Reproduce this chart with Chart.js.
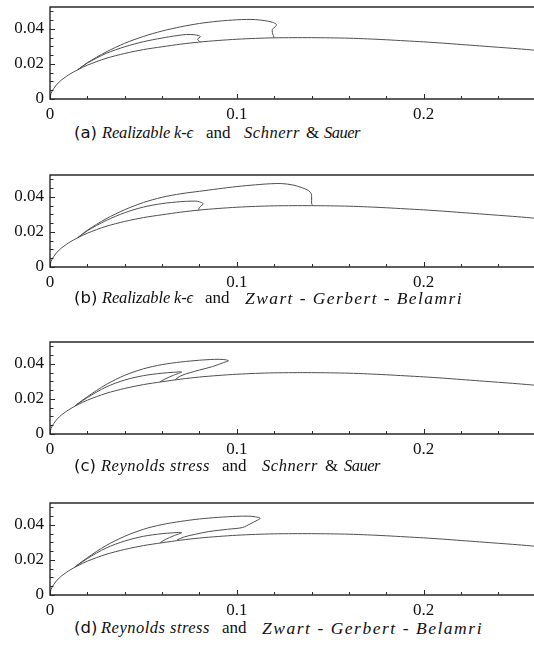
<!DOCTYPE html>
<html>
<head>
<meta charset="utf-8">
<script src="https://cdn.jsdelivr.net/npm/chart.js@4.4.1/dist/chart.umd.min.js"></script>
<style>
  html, body { margin: 0; padding: 0; background: #fff; }
  body { width: 534px; height: 650px; position: relative; overflow: hidden; }
  .panel { position: absolute; left: 0; width: 534px; height: 120px; }
  .cap { position: absolute; left: 0; top: 0; width: 534px; height: 24px; color: #111; }
  .cap span { position: absolute; top: 0; white-space: nowrap; line-height: 24px; }
  .lab { font-family: "DejaVu Sans", "Noto Sans", sans-serif; font-size: 16.5px; }
  .m { font-family: "Liberation Serif", "DejaVu Serif", serif; font-style: italic; font-size: 16.5px; }
  .m.wide { font-size: 17.5px; }
  .r { font-family: "Liberation Serif", "DejaVu Serif", serif; font-size: 17px; }
</style>
</head>
<body>
<div class="panel" style="top:0px"><canvas id="cA" width="534" height="120"></canvas></div>
<div class="panel" style="top:168px"><canvas id="cB" width="534" height="120"></canvas></div>
<div class="panel" style="top:335px"><canvas id="cC" width="534" height="120"></canvas></div>
<div class="panel" style="top:496px"><canvas id="cD" width="534" height="120"></canvas></div>

<div class="cap" style="top:121px">
  <span class="lab" data-x="74">(a)</span>
  <span class="m" data-x="102" data-w="91">Realizable k-ϵ</span>
  <span class="r" data-x="206">and</span>
  <span class="m" data-x="244" data-w="56">Schnerr</span>
  <span class="r" data-x="306">&amp;</span>
  <span class="m" data-x="324" data-w="36">Sauer</span>
</div>
<div class="cap" style="top:286px">
  <span class="lab" data-x="74">(b)</span>
  <span class="m" data-x="102" data-w="91">Realizable k-ϵ</span>
  <span class="r" data-x="205">and</span>
  <span class="m wide" data-x="245" data-w="218">Zwart - Gerbert - Belamri</span>
</div>
<div class="cap" style="top:454px">
  <span class="lab" data-x="74">(c)</span>
  <span class="m" data-x="101" data-w="109">Reynolds stress</span>
  <span class="r" data-x="222">and</span>
  <span class="m" data-x="262" data-w="56">Schnerr</span>
  <span class="r" data-x="325">&amp;</span>
  <span class="m" data-x="344" data-w="36">Sauer</span>
</div>
<div class="cap" style="top:616px">
  <span class="lab" data-x="74">(d)</span>
  <span class="m" data-x="101" data-w="109">Reynolds stress</span>
  <span class="r" data-x="222">and</span>
  <span class="m wide" data-x="262" data-w="221">Zwart - Gerbert - Belamri</span>
</div>

<script>
// Hydrofoil suction-side contour (shared by all four panels)
const foilX = [0, 0.0005, 0.002, 0.005, 0.01, 0.015, 0.02, 0.03, 0.04, 0.05, 0.06, 0.07, 0.08, 0.09, 0.10, 0.11, 0.12, 0.13, 0.14, 0.15, 0.16, 0.17, 0.18, 0.19, 0.20, 0.21, 0.22, 0.23, 0.24, 0.25, 0.26];
const foilY = [0, 0.0030, 0.0060, 0.0098, 0.0138, 0.0168, 0.0193, 0.0232, 0.0260, 0.0282, 0.0298, 0.0313, 0.0325, 0.0334, 0.0341, 0.0346, 0.0349, 0.0350, 0.0350, 0.0349, 0.0347, 0.0343, 0.0338, 0.0332, 0.0326, 0.0319, 0.0311, 0.0303, 0.0295, 0.0287, 0.0278];

// (a) Realizable k-eps + Schnerr & Sauer: cavity iso-contours
const outerAX = [0.015, 0.02, 0.03, 0.04, 0.05, 0.06, 0.07, 0.08, 0.09, 0.10, 0.105, 0.11, 0.115, 0.119, 0.1212, 0.1205, 0.119, 0.119, 0.1195, 0.120];
const outerAY = [0.0168, 0.0207, 0.0268, 0.0318, 0.0357, 0.0388, 0.0412, 0.0431, 0.0444, 0.0452, 0.0454, 0.0453, 0.0447, 0.0438, 0.0425, 0.0412, 0.0398, 0.0380, 0.0362, 0.0349];
const innerAX = [0.015, 0.02, 0.03, 0.04, 0.05, 0.06, 0.068, 0.073, 0.077, 0.0795, 0.0805, 0.079, 0.0795, 0.0805];
const innerAY = [0.0168, 0.0205, 0.0260, 0.0298, 0.0327, 0.0348, 0.0362, 0.0368, 0.0367, 0.0362, 0.0355, 0.0343, 0.0333, 0.0326];

// (b) Realizable k-eps + Zwart-Gerbert-Belamri
const outerBX = [0.015, 0.02, 0.03, 0.04, 0.05, 0.06, 0.07, 0.08, 0.09, 0.10, 0.11, 0.118, 0.124, 0.13, 0.135, 0.1385, 0.1398, 0.140, 0.140, 0.140, 0.1405];
const outerBY = [0.0168, 0.0210, 0.0275, 0.0327, 0.0368, 0.0398, 0.0418, 0.0432, 0.0446, 0.0459, 0.0469, 0.0475, 0.0476, 0.0468, 0.0452, 0.0435, 0.0418, 0.0400, 0.0380, 0.0362, 0.0350];
const innerBX = [0.015, 0.02, 0.03, 0.04, 0.05, 0.06, 0.07, 0.076, 0.079, 0.081, 0.082, 0.0805, 0.0795, 0.080];
const innerBY = [0.0168, 0.0207, 0.0265, 0.0310, 0.0342, 0.0362, 0.0373, 0.0376, 0.0375, 0.0368, 0.0360, 0.0345, 0.0330, 0.0325];

// (c) Reynolds stress + Schnerr & Sauer
const outerCX = [0.0133, 0.02, 0.03, 0.04, 0.05, 0.06, 0.07, 0.08, 0.088, 0.093, 0.0955, 0.093, 0.087, 0.080, 0.075, 0.070, 0.067];
const outerCY = [0.0160, 0.0213, 0.0282, 0.0335, 0.0372, 0.0396, 0.0411, 0.0421, 0.0426, 0.0425, 0.0418, 0.0408, 0.0385, 0.0365, 0.0350, 0.0332, 0.0310];
const innerCX = [0.0133, 0.02, 0.03, 0.04, 0.05, 0.06, 0.066, 0.0705, 0.066, 0.062, 0.059];
const innerCY = [0.0160, 0.0208, 0.0268, 0.0308, 0.0333, 0.0347, 0.0352, 0.0354, 0.0335, 0.0316, 0.0299];

// (d) Reynolds stress + Zwart-Gerbert-Belamri
const outerDX = [0.0133, 0.02, 0.03, 0.04, 0.05, 0.06, 0.07, 0.08, 0.09, 0.10, 0.106, 0.11, 0.1125, 0.111, 0.107, 0.103, 0.095, 0.085, 0.078, 0.072, 0.068];
const outerDY = [0.0160, 0.0213, 0.0282, 0.0335, 0.0375, 0.0402, 0.0420, 0.0434, 0.0443, 0.0449, 0.0450, 0.0446, 0.0438, 0.0427, 0.0405, 0.0385, 0.0375, 0.0362, 0.0347, 0.0332, 0.0314];
const innerDX = [0.0133, 0.02, 0.03, 0.04, 0.05, 0.06, 0.066, 0.0705, 0.066, 0.062, 0.059];
const innerDY = [0.0160, 0.0208, 0.0268, 0.0308, 0.0335, 0.0350, 0.0355, 0.0356, 0.0337, 0.0318, 0.0299];

// Axis ticks
const xMajor = [0, 0.1, 0.2];
const xTickLabels = ['0', '0.1', '0.2'];
const yMajor = [0, 0.02, 0.04];
const yTickLabels = ['0', '0.02', '0.04'];
const xMinorStep = 0.02;
const yMinorStep = 0.005;
const xMax = 0.259;
const yMax = 0.0525;

const pts = (xs, ys) => xs.map((x, i) => ({ x: x, y: ys[i] }));

// Caption pieces: place each at its left edge; math-italic words are spread to their width
document.querySelectorAll('.cap span').forEach(el => {
  el.style.left = el.dataset.x + 'px';
  if (el.dataset.w) {
    const natural = el.getBoundingClientRect().width;
    const ls = (parseFloat(el.dataset.w) - natural) / el.textContent.length;
    el.style.letterSpacing = ls.toFixed(2) + 'px';
  }
});

// Frame (top + left + bottom) with inward tick marks
const frameTicks = {
  id: 'frameTicks',
  afterDraw(chart) {
    const { ctx, chartArea: { left, right, top, bottom }, scales: { x, y } } = chart;
    ctx.save();
    ctx.strokeStyle = '#2a2a2a';
    ctx.lineWidth = 1.4;
    ctx.beginPath();
    ctx.moveTo(right, top); ctx.lineTo(left, top); ctx.lineTo(left, bottom); ctx.lineTo(right, bottom);
    ctx.stroke();
    ctx.lineWidth = 1;
    ctx.beginPath();
    for (let k = 0; k * xMinorStep <= xMax + 1e-9; k++) {
      const v = k * xMinorStep;
      const px = Math.round(x.getPixelForValue(v)) + 0.5;
      const major = xMajor.some(m => Math.abs(m - v) < 1e-9);
      ctx.moveTo(px, bottom); ctx.lineTo(px, bottom - (major ? 5 : 3));
    }
    for (let k = 0; k * yMinorStep <= yMax + 1e-9; k++) {
      const v = k * yMinorStep;
      const py = Math.round(y.getPixelForValue(v)) + 0.5;
      const major = yMajor.some(m => Math.abs(m - v) < 1e-9);
      ctx.moveTo(left, py); ctx.lineTo(left + (major ? 5 : 3.5), py);
    }
    ctx.stroke();
    ctx.restore();
  }
};

const lineStyle = { borderColor: '#4f4f4f', borderWidth: 1, pointRadius: 0, showLine: true, fill: false, tension: 0.3 };

function makeChart(id, outerX, outerY, innerX, innerY) {
  return new Chart(document.getElementById(id), {
    type: 'scatter',
    data: {
      datasets: [
        Object.assign({ data: pts(foilX, foilY) }, lineStyle),
        Object.assign({ data: pts(outerX, outerY) }, lineStyle),
        Object.assign({ data: pts(innerX, innerY) }, lineStyle)
      ]
    },
    options: {
      responsive: false,
      animation: false,
      devicePixelRatio: 1,
      layout: { padding: { top: 7, left: 0, right: 0, bottom: 0 } },
      plugins: { legend: { display: false }, tooltip: { enabled: false } },
      scales: {
        x: {
          type: 'linear', min: 0, max: xMax,
          grid: { display: false, drawTicks: false },
          border: { display: false },
          afterBuildTicks: s => { s.ticks = xMajor.map(v => ({ value: v })); },
          afterFit: s => { s.height = 21; s.paddingLeft = 0; s.paddingRight = 0; },
          ticks: {
            padding: 5, color: '#111', maxRotation: 0, autoSkip: false,
            font: { family: 'Liberation Serif', size: 17 },
            callback: (v) => xTickLabels[xMajor.findIndex(m => Math.abs(m - v) < 1e-9)]
          }
        },
        y: {
          type: 'linear', min: 0, max: yMax,
          grid: { display: false, drawTicks: false },
          border: { display: false },
          afterBuildTicks: s => { s.ticks = yMajor.map(v => ({ value: v })); },
          afterFit: s => { s.width = 50; s.paddingTop = 0; s.paddingBottom = 0; },
          ticks: {
            padding: 6, color: '#111', autoSkip: false,
            font: { family: 'Liberation Serif', size: 17 },
            callback: (v) => yTickLabels[yMajor.findIndex(m => Math.abs(m - v) < 1e-9)]
          }
        }
      }
    },
    plugins: [frameTicks]
  });
}

makeChart('cA', outerAX, outerAY, innerAX, innerAY);
makeChart('cB', outerBX, outerBY, innerBX, innerBY);
makeChart('cC', outerCX, outerCY, innerCX, innerCY);
makeChart('cD', outerDX, outerDY, innerDX, innerDY);
</script>
</body>
</html>
